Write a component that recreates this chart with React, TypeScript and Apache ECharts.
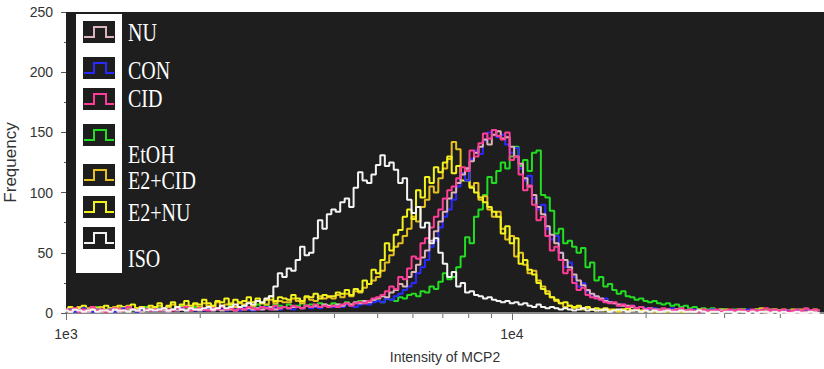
import React, { useEffect, useRef } from "react";
import * as echarts from "echarts";

// ---- data -------------------------------------------------------------
// histogram bins in log10(intensity): bin i starts at 3 + i*0.01
const LOG_START = 3;
const BIN_WIDTH = 0.01;

const SERIES_NAMES = ["NU", "CON", "CID", "EtOH", "E2+CID", "E2+NU", "ISO"];
const SERIES_COLORS = ["#dcb4bc", "#2a2aff", "#ff3c96", "#22dd22", "#e6c020", "#f2f21e", "#f4f4f4"];

const NU = [
  2,1,3,2,2,1,3,2,1,2, 2,3,1,2,2,3,2,1,3,2, 3,2,2,1,3,2,3,2,2,3, 2,3,3,2,4,2,3,3,2,4,
  3,4,3,4,3,4,5,3,4,5, 4,5,5,4,6,5,6,5,7,6, 6,7,6,8,7,9,8,10,9,11, 12,14,13,17,19,24,22,30,34,40,
  46,52,60,68,76,84,95,100,108,115, 120,126,133,138,144,140,148,151,145,146, 138,130,124,112,105,98,88,82,72,65,
  58,50,44,38,32,27,23,19,16,14, 12,10,9,8,7,6,6,5,4,5, 3,4,3,3,2,3,2,3,2,2, 2,1,2,2,1,2,1,2,1,1,
  1,2,1,1,2,1,1,0,1,1, 1,0,1,1,0,1,1,0,1,0,
];
const CON = [
  2,3,1,2,4,2,1,3,2,2, 3,1,2,4,2,3,1,2,3,2, 2,3,2,1,3,2,4,2,3,2, 3,2,4,2,3,3,2,4,3,2,
  4,3,2,4,3,5,3,4,3,5, 4,3,5,4,6,4,5,4,6,5, 5,6,5,7,6,5,7,8,7,9, 10,9,12,11,14,16,19,22,25,33,
  38,44,55,60,71,80,86,94,105,116, 110,128,135,132,143,150,152,146,148,140, 133,137,120,110,114,95,86,90,70,61,
  64,50,38,42,30,22,25,18,14,13, 11,12,9,8,6,7,5,6,4,5, 4,3,4,3,2,3,4,2,3,2, 2,3,2,1,2,3,2,2,1,2,
  2,1,2,3,1,2,2,1,2,2, 1,2,2,1,2,1,2,2,1,1,
];
const CID = [
  3,2,4,1,3,2,5,2,3,1, 2,4,3,2,5,3,2,4,3,2, 3,2,4,3,2,4,3,5,2,3, 4,3,2,4,3,5,3,4,2,4,
  3,5,4,3,5,4,3,6,4,5, 4,6,5,4,6,5,7,5,6,5, 6,5,7,8,6,8,9,8,10,12, 13,15,18,22,20,30,28,37,47,45,
  58,62,71,80,86,95,102,105,112,121, 118,135,130,141,149,145,152,147,144,150, 127,130,115,102,106,90,77,80,64,52,
  55,44,33,36,25,19,21,15,13,12, 11,9,8,9,6,7,5,6,4,5, 3,4,3,2,4,3,2,3,4,2, 3,2,1,3,2,2,3,1,2,3,
  2,3,2,1,3,2,2,4,2,3, 2,3,1,2,3,2,4,2,3,2,
];
const ETOH = [
  2,3,1,4,2,3,2,5,3,2, 4,2,3,5,3,2,4,3,5,3, 3,4,2,5,3,4,6,3,4,5, 4,3,5,6,4,5,3,6,5,4,
  6,4,5,7,5,6,4,7,6,5, 7,5,6,8,6,7,5,8,7,6, 8,7,6,9,7,8,10,8,9,11, 10,9,12,11,10,13,12,15,16,14,
  18,17,22,20,26,33,28,30,38,47, 63,58,80,86,98,113,108,118,125,120, 130,138,122,127,118,133,135,98,96,85,
  66,70,58,60,55,50,54,38,42,27, 30,22,24,19,16,18,14,13,11,12, 10,9,10,8,7,8,6,7,5,6, 4,5,3,4,3,4,2,3,3,2,
  3,2,3,2,2,3,1,2,2,3, 2,1,2,2,3,1,2,2,1,2,
];
const E2_CID = [
  2,4,3,5,2,4,3,2,5,3, 3,5,4,2,6,3,4,5,3,4, 4,6,3,5,7,4,5,6,4,7, 5,8,6,5,9,6,7,8,5,8,
  7,9,6,10,8,7,11,8,10,9, 9,12,10,8,13,11,10,14,12,13, 12,15,13,16,14,18,17,21,24,27, 30,35,42,48,55,58,64,70,80,76,
  88,94,105,100,112,120,128,142,136,116, 120,105,108,94,97,86,80,84,70,61, 64,47,50,40,33,35,27,22,18,13,
  10,8,5,6,4,5,3,4,3,2, 3,2,3,2,1,3,2,2,3,1, 2,3,1,2,2,1,3,2,2,1, 2,2,1,3,2,1,2,2,3,1,
  2,1,3,2,1,2,4,2,3,2, 2,3,2,1,2,3,2,1,2,2,
];
const E2_NU = [
  3,5,2,4,6,3,5,4,2,6, 4,3,6,5,3,7,4,5,3,6, 5,8,4,6,9,5,7,10,6,8, 7,11,8,6,10,9,12,7,11,9,
  10,13,9,12,8,11,14,10,13,12, 11,15,12,10,14,13,16,12,15,14, 14,17,16,19,15,20,18,27,24,36, 33,44,58,52,65,69,80,86,78,102,
  96,113,108,121,117,125,130,116,122,110, 110,104,100,96,92,88,84,80,66,72, 58,62,41,44,36,32,25,20,16,13,
  11,8,9,6,5,6,4,5,3,4, 3,4,2,3,2,3,4,2,3,2, 2,3,2,1,3,2,2,3,1,2, 2,1,3,2,2,1,2,3,1,2,
  2,3,1,2,2,3,2,1,2,3, 2,1,2,3,2,1,2,2,3,1,
];
const ISO = [
  2,1,3,2,1,2,3,1,2,2, 1,3,2,2,1,3,2,4,2,3, 2,3,4,2,3,5,3,2,4,3, 3,4,5,3,4,6,4,5,7,5,
  6,8,7,10,9,12,14,22,33,30, 37,35,44,55,48,50,62,77,70,82, 86,84,92,95,88,104,117,110,108,115, 123,131,122,125,119,108,112,94,83,88,
  71,75,58,62,50,41,30,34,22,25, 17,18,15,14,12,13,11,10,9,10, 8,9,7,8,6,5,7,5,4,5, 4,3,4,3,2,3,4,2,3,2,
  2,3,1,2,3,2,1,2,2,1, 2,1,2,1,1,2,1,1,2,1, 1,1,2,1,0,1,1,0,1,1, 0,1,1,0,1,0,1,1,0,1,
  0,1,0,0,1,0,0,1,0,0,
];

const SERIES_VALUES = [NU, CON, CID, ETOH, E2_CID, E2_NU, ISO];
// draw order (last drawn on top)
const DRAW_ORDER = [3, 4, 5, 1, 0, 2, 6];

const X_MIN_LOG = 3;
const X_MAX_LOG = 4.7;
const MINOR_TICK_VALUES = [2000, 3000, 4000, 5000, 6000, 7000, 8000, 9000, 20000, 30000, 40000];
const Y_MAX = 250;

// ---- layout of the hand-drawn legend ------------------------------------
const LEGEND_ICON_CENTERS = [32, 68, 99, 135, 175, 207, 238];
const LEGEND_TEXT_CENTERS = [32, 70, 98, 154, 180, 212, 258];

export default function App() {
  const ref = useRef<HTMLDivElement>(null);

  useEffect(() => {
    document.body.style.margin = "0";
    if (!ref.current) return;
    const chart = echarts.init(ref.current, null, { renderer: "svg" });

    const toPairs = (vals: number[]) => vals.map((v, i) => [LOG_START + i * BIN_WIDTH, v]);

    const histSeries = DRAW_ORDER.map((k) => ({
      type: "line",
      name: SERIES_NAMES[k],
      data: toPairs(SERIES_VALUES[k]),
      step: "middle",
      symbol: "none",
      lineStyle: { color: SERIES_COLORS[k], width: 2 },
      itemStyle: { color: SERIES_COLORS[k] },
      silent: true,
    }));

    const minorTickSeries = {
      type: "custom",
      clip: false,
      silent: true,
      data: MINOR_TICK_VALUES.map((v) => [Math.log10(v), 0]),
      renderItem: (params: any, api: any) => {
        const p = api.coord([api.value(0), 0]);
        return {
          type: "line",
          shape: { x1: p[0], y1: p[1] + 1, x2: p[0], y2: p[1] + 5 },
          style: { stroke: "#707070", lineWidth: 1 },
        };
      },
    };

    const graphic: any[] = [
      { type: "rect", shape: { x: 76, y: 14, width: 46, height: 259 }, style: { fill: "#ffffff" }, z: 100 },
    ];
    SERIES_NAMES.forEach((name, k) => {
      const cy = LEGEND_ICON_CENTERS[k];
      const x0 = 83;
      graphic.push({
        type: "rect",
        shape: { x: x0, y: cy - 11, width: 32, height: 22 },
        style: { fill: "#1e1e1e" },
        z: 101,
      });
      graphic.push({
        type: "polyline",
        shape: {
          points: [
            [x0 + 1, cy + 5],
            [x0 + 11, cy + 5],
            [x0 + 11, cy - 5],
            [x0 + 23, cy - 5],
            [x0 + 23, cy + 5],
            [x0 + 31, cy + 5],
          ],
        },
        style: { stroke: SERIES_COLORS[k], lineWidth: 2, fill: null },
        z: 102,
      });
      graphic.push({
        type: "text",
        x: 128,
        y: LEGEND_TEXT_CENTERS[k],
        scaleY: 1.3,
        style: {
          text: name,
          fill: "#ffffff",
          font: '20px "Liberation Serif", "Times New Roman", serif',
          textVerticalAlign: "middle",
          textAlign: "left",
        },
        z: 102,
      });
    });

    chart.setOption({
      animation: false,
      backgroundColor: "#ffffff",
      grid: {
        left: 66,
        right: 0,
        top: 12,
        bottom: 56,
        show: true,
        backgroundColor: "#1e1e1e",
        borderWidth: 0,
        containLabel: false,
        outerBoundsMode: "none",
      },
      xAxis: {
        type: "value",
        min: X_MIN_LOG,
        max: X_MAX_LOG,
        interval: 1,
        name: "Intensity of MCP2",
        nameLocation: "middle",
        nameGap: 37,
        nameTextStyle: { fontFamily: "Liberation Sans, Arial, sans-serif", fontSize: 14, color: "#333" },
        axisLine: { show: true, lineStyle: { color: "#8a8a8a", width: 2 } },
        axisTick: { show: true, length: 7, lineStyle: { color: "#707070", width: 1 } },
        axisLabel: {
          fontFamily: "Liberation Sans, Arial, sans-serif",
          fontSize: 14,
          color: "#333",
          margin: 14,
          formatter: (v: number) => (Math.abs(v - Math.round(v)) < 1e-9 ? "1e" + Math.round(v) : ""),
        },
        splitLine: { show: false },
      },
      yAxis: {
        type: "value",
        min: 0,
        max: Y_MAX,
        interval: 50,
        name: "Frequency",
        nameLocation: "middle",
        nameGap: 43,
        nameTextStyle: { fontFamily: "Liberation Sans, Arial, sans-serif", fontSize: 17, color: "#333" },
        axisLine: { show: false },
        axisTick: { show: true, length: 5, lineStyle: { color: "#555" } },
        minorTick: { show: true, splitNumber: 2, length: 2, lineStyle: { color: "#555" } },
        axisLabel: { fontFamily: "Liberation Sans, Arial, sans-serif", fontSize: 14, color: "#333", margin: 13 },
        splitLine: { show: false },
      },
      series: [...histSeries, minorTickSeries],
      graphic,
    });

    return () => chart.dispose();
  }, []);

  return <div ref={ref} style={{ width: 824, height: 369 }} />;
}
